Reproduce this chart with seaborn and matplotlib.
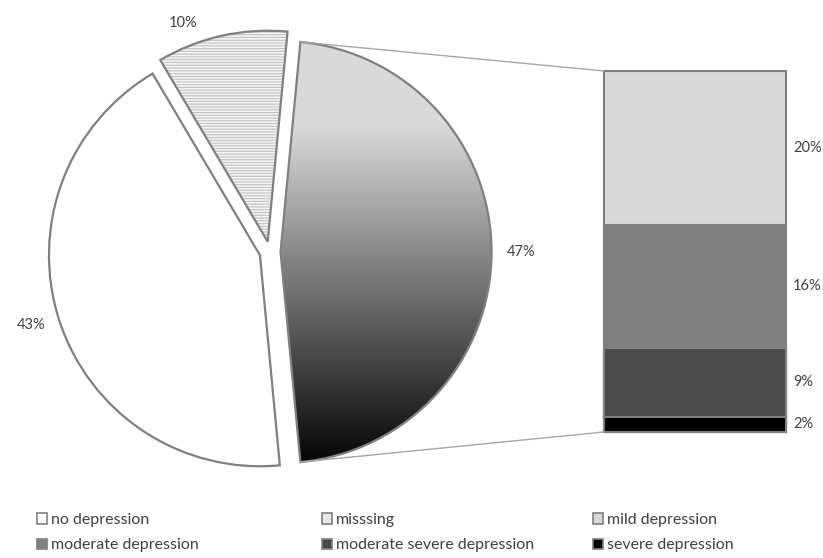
import numpy as np
import matplotlib
matplotlib.use("Agg")
import matplotlib.pyplot as plt
import seaborn as sns
from matplotlib.patches import Wedge, Patch, ConnectionPatch
from matplotlib.colors import LinearSegmentedColormap

# data
pie_names = ["other", "missing", "no depression"]
pie_values = [47, 10, 43]
bar_names = ["mild depression", "moderate depression", "moderate severe depression", "severe depression"]
bar_values = [20, 16, 9, 2]
bar_colors = ["#d9d9d9", "#808080", "#4b4b4b", "#000000"]

legend_names = ["no depression", "misssing", "mild depression",
                "moderate depression", "moderate severe depression", "severe depression"]
legend_faces = ["#ffffff", "#e6e6e6", "#d9d9d9", "#808080", "#4b4b4b", "#000000"]

sns.set_theme(style="white")
plt.rcParams['font.family'] = ['Lato', 'DejaVu Sans']
plt.rcParams['hatch.linewidth'] = 0.8
txt_color = "#404040"
edge = "#808080"

W, H = 823, 558
fig = plt.figure(figsize=(W / 100, H / 100), dpi=100)

# pie axes (layout in pixels)
R = 211
cx, cy = 270, 252
ax_w, ax_h = 540, 500
ax = fig.add_axes([0, (H - ax_h) / H, ax_w / W, ax_h / H])

start = -pie_values[0] * 3.6 / 2
wedges, texts = ax.pie(
    pie_values, startangle=start, explode=[0.05] * 3,
    colors=["none", "none", "white"],
    labels=[f"{v}%" for v in pie_values], labeldistance=1.07,
    wedgeprops=dict(edgecolor=edge, linewidth=1.6, zorder=2),
    textprops=dict(color=txt_color, fontsize=10.5),
)
# nudge the small slice label to the left, as in the original
tx, ty = texts[1].get_position()
texts[1].set_position((tx - 0.1, ty - 0.01))

# gradient fill for the "other" slice
other = wedges[0]
ocx, ocy = other.center
cmap = LinearSegmentedColormap.from_list(
    "g", [(0, "#d9d9d9"), (0.2, "#d9d9d9"), (1, "#050505")])
grad = np.linspace(0, 1, 256)[:, None]
img = ax.imshow(grad, cmap=cmap, origin="upper", aspect="auto",
                extent=(ocx - 0.15, ocx + other.r, ocy - other.r, ocy + other.r),
                zorder=1)
img.set_clip_path(other)

# hatched fill for the missing slice
miss = wedges[1]
ax.add_patch(Wedge(miss.center, miss.r, miss.theta1, miss.theta2,
                   facecolor="#f4f4f4", edgecolor="#c2c2c2", linewidth=0,
                   hatch="------", zorder=1.5))

ax.set_xlim(-cx / R, (ax_w - cx) / R)
ax.set_ylim(-(ax_h - cy) / R, cy / R)
ax.set_aspect("auto")
ax.axis("off")

# stacked bar
bx = fig.add_axes([604 / W, (H - 432) / H, 182 / W, 361 / H])
cum = np.cumsum(bar_values[::-1])[::-1]
for v, c in zip(cum, bar_colors):
    sns.barplot(x=[0], y=[v], color=c, width=1, saturation=1,
                edgecolor=edge, linewidth=1.5, ax=bx)
for p in bx.patches:
    p.set_clip_on(False)
bx.set_xlim(-0.5, 0.5)
bx.set_ylim(0, sum(bar_values))
bx.axis("off")

for v, top in zip(bar_values, cum):
    bx.annotate(f"{v}%", xy=(0.5, top - v / 2), xytext=(5, 0),
                textcoords="offset points", ha="left", va="center",
                color=txt_color, fontsize=10.5, annotation_clip=False)

# connector lines
for ang, yb in [(other.theta2, sum(bar_values)), (other.theta1, 0)]:
    px = ocx + other.r * np.cos(np.radians(ang))
    py = ocy + other.r * np.sin(np.radians(ang))
    con = ConnectionPatch(xyA=(px, py), coordsA=ax.transData,
                          xyB=(-0.5, yb), coordsB=bx.transData,
                          color="#a6a6a6", lw=1)
    fig.add_artist(con)

# legend, three columns
handles = [Patch(facecolor=f, edgecolor=edge, linewidth=1.2) for f in legend_faces]
for x, idx in [(37, [0, 3]), (322, [1, 4]), (593, [2, 5])]:
    fig.legend(handles=[handles[i] for i in idx],
               labels=[legend_names[i] for i in idx],
               loc="upper left", bbox_to_anchor=(x / W, 1 - 513 / H),
               frameon=False, borderpad=0, borderaxespad=0,
               handlelength=0.62, handleheight=0.62, handletextpad=0.25,
               labelspacing=0.72, fontsize=11.5, labelcolor=txt_color)

fig.savefig("out.png", dpi=100)
